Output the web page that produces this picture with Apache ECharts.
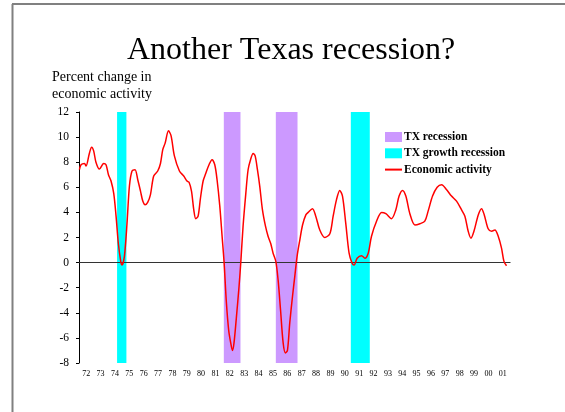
<!DOCTYPE html>
<html>
<head>
<meta charset="utf-8">
<title>Another Texas recession?</title>
<script src="https://cdn.jsdelivr.net/npm/echarts@6/dist/echarts.min.js"></script>
<style>
    html, body { margin: 0; padding: 0; background: #fff; }
    #main { width: 565px; height: 412px; }
</style>
</head>
<body>
<div id="main"></div>
<script>
// 1. data
let yearLabels = ['72', '73', '74', '75', '76', '77', '78', '79', '80', '81', '82', '83', '84', '85', '86',
    '87', '88', '89', '90', '91', '92', '93', '94', '95', '96', '97', '98', '99', '00', '01']
let years = [
    1972.03, 1972.14, 1972.38, 1972.49, 1972.72, 1972.88, 1973.02, 1973.18, 1973.42, 1973.72,
    1973.88, 1974.05, 1974.23, 1974.42, 1974.58, 1974.74, 1974.92, 1974.99, 1975.16, 1975.34,
    1975.51, 1975.69, 1975.90, 1976.09, 1976.28, 1976.44, 1976.60, 1976.78, 1976.97, 1977.20,
    1977.48, 1977.67, 1977.83, 1977.99, 1978.23, 1978.41, 1978.64, 1978.99, 1979.29, 1979.52,
    1979.66, 1979.83, 1979.99, 1980.13, 1980.29, 1980.45, 1980.64, 1980.82, 1981.05, 1981.26,
    1981.45, 1981.61, 1981.80, 1981.96, 1982.10, 1982.26, 1982.42, 1982.56, 1982.68, 1982.79,
    1982.96, 1983.14, 1983.26, 1983.42, 1983.61, 1983.77, 1983.94, 1984.12, 1984.26, 1984.42,
    1984.58, 1984.77, 1984.98, 1985.16, 1985.35, 1985.51, 1985.70, 1985.86, 1986.03, 1986.21,
    1986.37, 1986.51, 1986.67, 1986.86, 1987.02, 1987.18, 1987.37, 1987.56, 1987.79, 1987.95,
    1988.25, 1988.48, 1988.76, 1989.11, 1989.46, 1989.69, 1989.92, 1990.15, 1990.34, 1990.57,
    1990.80, 1991.01, 1991.15, 1991.36, 1991.67, 1991.90, 1992.13, 1992.36, 1992.71, 1993.06,
    1993.36, 1993.75, 1994.05, 1994.28, 1994.52, 1994.75, 1995.03, 1995.38, 1995.73, 1996.07,
    1996.30, 1996.61, 1996.93, 1997.24, 1997.59, 1997.93, 1998.28, 1998.63, 1998.86, 1999.09,
    1999.28, 1999.49, 1999.79, 2000.02, 2000.21, 2000.48, 2000.72, 2000.95, 2001.18, 2001.41,
    2001.58, 2001.76
]
let activity = [
    7.4, 7.8, 7.9, 7.7, 8.7, 9.2, 8.9, 8.0, 7.45, 7.9,
    7.8, 7.0, 6.5, 5.5, 3.7, 1.5, 0.0, -0.2, 0.5, 3.1,
    6.1, 7.3, 7.4, 6.6, 5.7, 4.9, 4.6, 4.8, 5.4, 6.9,
    7.3, 7.9, 9.0, 9.5, 10.5, 10.1, 8.5, 7.3, 6.9, 6.5,
    6.4, 5.7, 4.2, 3.5, 3.7, 5.1, 6.5, 7.1, 7.8, 8.2,
    7.8, 6.6, 4.5, 2.1, 0.0, -3.2, -5.4, -6.4, -7.0, -6.4,
    -4.3, -1.9, 0.0, 2.9, 5.5, 7.4, 8.2, 8.7, 8.5, 7.4,
    6.1, 4.2, 2.9, 2.1, 1.5, 0.75, 0.1, -1.4, -3.8, -6.4,
    -7.2, -7.0, -4.8, -2.7, -1.1, 0.5, 1.8, 3.0, 3.8, 4.0,
    4.3, 3.7, 2.6, 2.0, 2.3, 3.7, 5.0, 5.75, 5.3, 3.1,
    0.75, -0.05, -0.2, 0.35, 0.55, 0.35, 0.75, 2.1, 3.3, 4.0,
    3.9, 3.5, 4.2, 5.3, 5.75, 5.3, 3.9, 3.0, 3.1, 3.3,
    4.1, 5.3, 6.0, 6.2, 5.8, 5.3, 4.9, 4.2, 3.7, 2.5,
    1.95, 2.5, 3.8, 4.3, 3.8, 2.7, 2.5, 2.6, 2.1, 1.15,
    0.1, -0.25
]
// start / end of each shaded period
let txRecession = [[1982.08, 1983.24], [1985.70, 1987.21]]
let txGrowthRecession = [[1974.65, 1975.30], [1990.92, 1992.24]]

let serif = "'Liberation Serif', 'Times New Roman', serif"

// 2. chart
let myChart = echarts.init(document.getElementById('main'))

function bands(list) {
    return list.map(function (p) {
        return [{ xAxis: p[0] }, { xAxis: p[1] }]
    })
}

let option = {
    animation: false,
    title: [
        {
            text: 'Another Texas recession?',
            left: 122,
            top: 30,
            textStyle: { fontFamily: serif, fontSize: 32, fontWeight: 'normal', color: '#000' }
        },
        {
            text: 'Percent change in\neconomic activity',
            left: 47,
            top: 64,
            textStyle: { fontFamily: serif, fontSize: 14, fontWeight: 'normal', color: '#000', lineHeight: 17 }
        }
    ],
    legend: {
        orient: 'vertical',
        left: 379,
        top: 126,
        itemWidth: 17,
        itemHeight: 10,
        itemGap: 4.3,
        textStyle: { fontFamily: serif, fontSize: 11.5, fontWeight: 'bold', color: '#000', padding: [0, 0, 0, -3] },
        data: [
            { name: 'TX recession', icon: 'rect' },
            { name: 'TX growth recession', icon: 'rect' },
            { name: 'Economic activity', itemStyle: { opacity: 0 } }
        ]
    },
    grid: { left: 79, right: 55, top: 112, bottom: 49 },
    xAxis: [
        {
            type: 'category',
            data: yearLabels,
            boundaryGap: true,
            axisLine: { lineStyle: { color: '#000', width: 1 } },
            axisTick: { length: 3, lineStyle: { color: '#000' } },
            axisLabel: { fontFamily: serif, fontSize: 8, color: '#000', margin: 7, interval: 0 }
        },
        {
            type: 'value',
            min: 1972,
            max: 2002,
            show: false
        }
    ],
    yAxis: {
        type: 'value',
        min: -8,
        max: 12,
        interval: 2,
        splitLine: { show: false },
        axisLine: { show: true, lineStyle: { color: '#000', width: 1 } },
        axisTick: { show: true, length: 3, lineStyle: { color: '#000' } },
        axisLabel: { fontFamily: serif, fontSize: 11.5, color: '#000', margin: 10 }
    },
    graphic: [
        { type: 'line', shape: { x1: 12, y1: 4, x2: 565, y2: 4 }, style: { stroke: '#808080', lineWidth: 2 } },
        { type: 'line', shape: { x1: 12.5, y1: 4, x2: 12.5, y2: 412 }, style: { stroke: '#808080', lineWidth: 2 } }
    ],
    series: [
        {
            name: 'TX recession',
            type: 'line',
            xAxisIndex: 1,
            data: [],
            color: '#cc99ff',
            itemStyle: { color: '#cc99ff' },
            markArea: { silent: true, itemStyle: { color: '#cc99ff', opacity: 1 }, data: bands(txRecession) }
        },
        {
            name: 'TX growth recession',
            type: 'line',
            xAxisIndex: 1,
            data: [],
            color: '#00ffff',
            itemStyle: { color: '#00ffff' },
            markArea: { silent: true, itemStyle: { color: '#00ffff', opacity: 1 }, data: bands(txGrowthRecession) }
        },
        {
            name: 'Economic activity',
            type: 'line',
            xAxisIndex: 1,
            data: years.map(function (y, i) { return [y, activity[i]] }),
            smooth: 0.3,
            symbol: 'none',
            color: '#ff0000',
            lineStyle: { color: '#ff0000', width: 1.5 },
            markLine: {
                silent: true,
                symbol: 'none',
                label: { show: false },
                lineStyle: { color: '#333', width: 1, type: 'solid' },
                data: [{ yAxis: 0 }]
            },
            z: 5
        }
    ]
}
myChart.setOption(option)
</script>
</body>
</html>
